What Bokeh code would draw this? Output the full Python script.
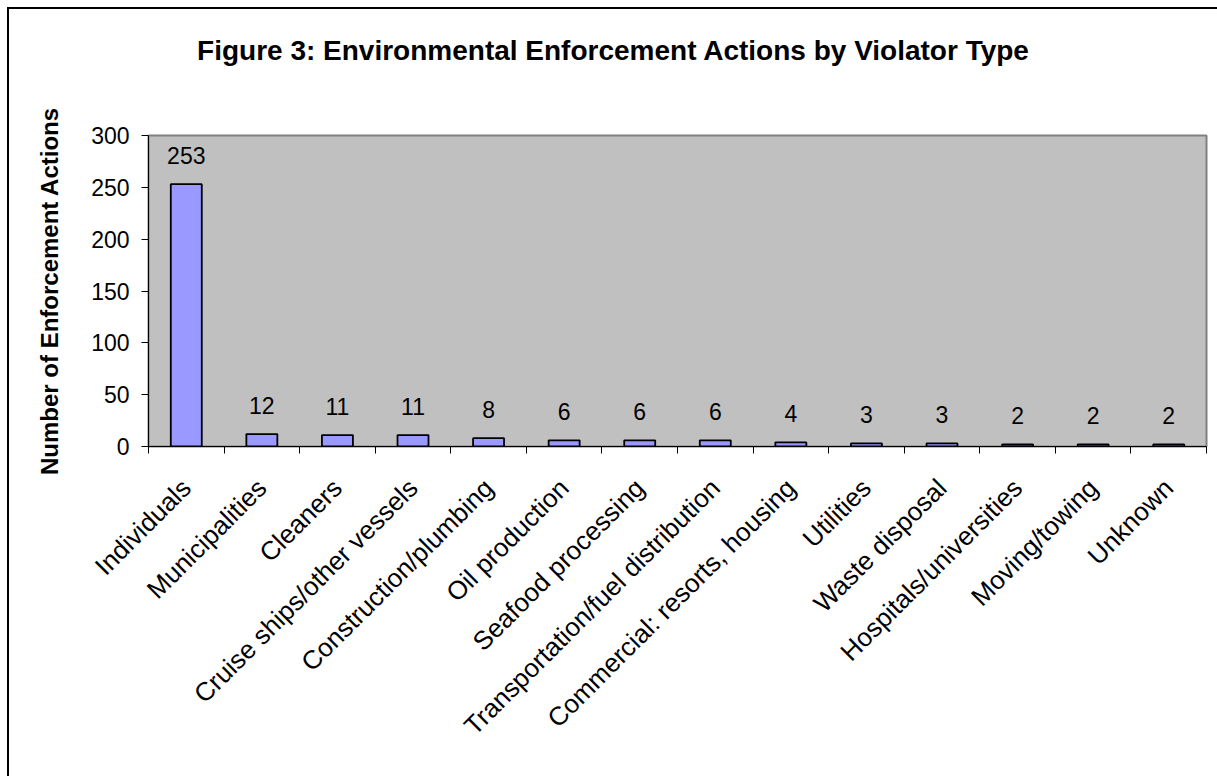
import math
from bokeh.plotting import figure
from bokeh.layouts import column
from bokeh.models import (ColumnDataSource, Range1d, LinearAxis, FixedTicker, LabelSet, Div)
from bokeh.core.properties import value
from bokeh.embed import file_html
from bokeh.resources import INLINE

categories = ["Individuals", "Municipalities", "Cleaners", "Cruise ships/other vessels",
              "Construction/plumbing", "Oil production", "Seafood processing",
              "Transportation/fuel distribution", "Commercial: resorts, housing",
              "Utilities", "Waste disposal", "Hospitals/universities",
              "Moving/towing", "Unknown"]
actions = [253, 12, 11, 11, 8, 6, 6, 6, 4, 3, 3, 2, 2, 2]
y_ticks = [0, 50, 100, 150, 200, 250, 300]
title_text = "Figure 3: Environmental Enforcement Actions by Violator Type"
y_label = "Number of Enforcement Actions"

FONT = "Liberation Sans"
n = len(categories)
centers = [i + 0.5 for i in range(n)]

src = ColumnDataSource(dict(x=centers, val=actions, lab=[str(v) for v in actions]))

W = 1208
TITLE_H = 60

title_div = Div(
    text=('<div style="display:block; width:%dpx; text-align:center; '
          'font-family:\'Liberation Sans\', Arial, sans-serif; font-size:28px; '
          'font-weight:bold; color:#000000; line-height:28px; padding-top:28px;">%s</div>'
          % (W, title_text)),
    width=W, height=TITLE_H, margin=0)

p = figure(width=W, height=767 - TITLE_H, x_range=Range1d(0, n),
           y_range=Range1d(0, 300), output_backend="svg", toolbar_location=None,
           x_axis_type=None, y_axis_type=None,
           min_border_left=139, min_border_right=11, min_border_top=135 - 9 - TITLE_H,
           min_border_bottom=330, margin=0)

p.background_fill_color = "#C0C0C0"
p.border_fill_color = "#FFFFFF"
p.outline_line_color = "#808080"
p.outline_line_width = 2
p.grid.visible = False

p.vbar(x="x", top="val", width=0.41, source=src, fill_color="#9999FF",
       line_color="#000000", line_width=1.8)

labels = LabelSet(x="x", y="val", text="lab", source=src, y_offset=20,
                  text_align="center", text_baseline="alphabetic",
                  text_font=value(FONT), text_font_size="23px", text_color="#000000")
p.add_layout(labels)

# y axis
yax = LinearAxis(ticker=FixedTicker(ticks=y_ticks), axis_label=y_label)
yax.axis_line_color = "#000000"
yax.major_tick_out = 7
yax.major_tick_in = 0
yax.minor_tick_line_color = None
yax.major_label_text_font = FONT
yax.major_label_text_font_size = "23px"
yax.major_label_text_color = "#000000"
yax.major_label_standoff = 12
yax.axis_label_text_font = FONT
yax.axis_label_text_font_size = "24px"
yax.axis_label_text_font_style = "bold"
yax.axis_label_text_color = "#000000"
yax.axis_label_standoff = 25
p.add_layout(yax, "left")

# x axis: ticks at category boundaries (no labels)
tax = LinearAxis(ticker=FixedTicker(ticks=list(range(n + 1))))
tax.axis_line_color = "#000000"
tax.major_tick_out = 7
tax.major_tick_in = 0
tax.minor_tick_line_color = None
tax.major_label_text_font_size = "1px"
tax.major_label_text_color = None
tax.major_label_standoff = 0
p.add_layout(tax, "below")

# x axis: category names at category centres
cax = LinearAxis(ticker=FixedTicker(ticks=centers),
                 major_label_overrides={c: name for c, name in zip(centers, categories)})
cax.axis_line_color = None
cax.major_tick_line_color = None
cax.minor_tick_line_color = None
cax.major_label_orientation = math.pi / 4
cax.major_label_text_font = FONT
cax.major_label_text_font_size = "26px"
cax.major_label_text_color = "#000000"
cax.major_label_standoff = 24
p.add_layout(cax, "below")

layout = column(title_div, p, spacing=0)
layout.styles = {"border-left": "2px solid #000000", "border-top": "2px solid #000000",
                 "margin-left": "7px", "margin-top": "7px", "background-color": "#FFFFFF"}

open("out.html", "w").write(file_html(layout, INLINE))
